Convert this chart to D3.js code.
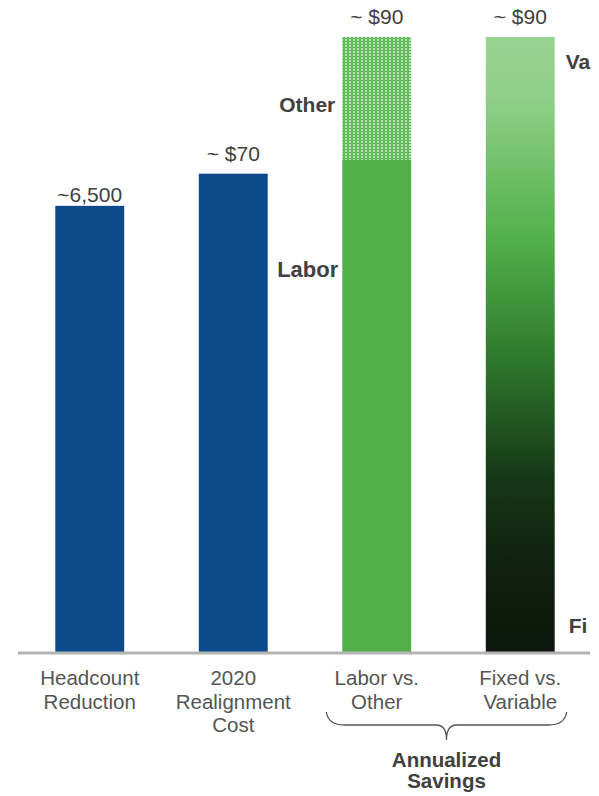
<!DOCTYPE html>
<html>
<head>
<meta charset="utf-8">
<script src="https://cdn.jsdelivr.net/npm/d3@7"></script>
<style>
  html, body { margin: 0; padding: 0; background: #ffffff; }
  svg { display: block; font-family: "Liberation Sans", Arial, sans-serif; }
</style>
</head>
<body>
<svg id="chart" width="599" height="796"></svg>
<script>
// ---- data ----
const categories = ["Headcount\nReduction", "2020\nRealignment\nCost", "Labor vs.\nOther", "Fixed vs.\nVariable"];
const valueLabels = ["~6,500", "~ $70", "~ $90", "~ $90"];
const headcount = 6500;          // bar 1 (people)
const realignmentCost = 70;      // bar 2 ($M)
const laborSavings = 72;         // bar 3, labor part ($M)
const otherSavings = 18;         // bar 3, other part ($M)
const fixedVsVariableTotal = 90; // bar 4 ($M)
const segmentLabels = ["Other", "Labor"];
const sideLabels = ["Va", "Fi"];  // visible (cropped) parts of "Variable" / "Fixed"
const groupLabel = ["Annualized", "Savings"];

// ---- layout ----
const svg = d3.select("#chart");
const baseY = 652, topY = 37;

const x = d3.scaleBand().domain(categories).range([18, 592])
  .paddingInner(0.52).paddingOuter(0.26);
const y = d3.scaleLinear().domain([0, 90]).range([baseY, topY]);
const yHead = d3.scaleLinear().domain([0, 8960]).range([baseY, topY]);

const defs = svg.append("defs");
const grad = defs.append("linearGradient").attr("id", "fvGrad")
  .attr("x1", 0).attr("y1", 0).attr("x2", 0).attr("y2", 1);
[["0%", "#98d391"], ["10%", "#8fcf88"], ["33%", "#52b04a"], ["52%", "#2f7a2d"],
 ["72%", "#163616"], ["88%", "#0f1f0e"], ["100%", "#0d170c"]]
  .forEach(([o, c]) => grad.append("stop").attr("offset", o).attr("stop-color", c));

const pat = defs.append("pattern").attr("id", "dots")
  .attr("patternUnits", "userSpaceOnUse").attr("width", 4).attr("height", 3);
pat.append("rect").attr("width", 4).attr("height", 3).attr("fill", "#62ba5c");
pat.append("rect").attr("x", 1).attr("y", 0).attr("width", 2).attr("height", 2)
  .attr("fill", "#b7e2b2");

const blue = "#0c4a8c";
const green = "#51af4a";

// Bar 1
svg.append("rect").attr("x", x(categories[0])).attr("width", x.bandwidth())
  .attr("y", yHead(headcount)).attr("height", baseY - yHead(headcount)).attr("fill", blue);
// Bar 2
svg.append("rect").attr("x", x(categories[1])).attr("width", x.bandwidth())
  .attr("y", y(realignmentCost)).attr("height", baseY - y(realignmentCost)).attr("fill", blue);
// Bar 3 stacked
svg.append("rect").attr("x", x(categories[2])).attr("width", x.bandwidth())
  .attr("y", y(laborSavings)).attr("height", baseY - y(laborSavings)).attr("fill", green);
svg.append("rect").attr("x", x(categories[2])).attr("width", x.bandwidth())
  .attr("y", y(laborSavings + otherSavings))
  .attr("height", y(laborSavings) - y(laborSavings + otherSavings)).attr("fill", "url(#dots)");
// Bar 4 gradient
svg.append("rect").attr("x", x(categories[3])).attr("width", x.bandwidth())
  .attr("y", y(fixedVsVariableTotal)).attr("height", baseY - y(fixedVsVariableTotal))
  .attr("fill", "url(#fvGrad)");

// value labels
const tops = [yHead(headcount), y(realignmentCost), y(laborSavings + otherSavings), y(fixedVsVariableTotal)];
const gaps = [4, 13, 13, 13];
svg.selectAll("text.val").data(valueLabels).join("text").attr("class", "val")
  .attr("x", (d, i) => x(categories[i]) + x.bandwidth() / 2)
  .attr("y", (d, i) => tops[i] - gaps[i])
  .attr("text-anchor", "middle").attr("font-size", 21).attr("fill", "#404040")
  .text(d => d);

// segment labels (bold)
const cx3 = x(categories[2]);
svg.append("text").attr("x", cx3 - 7).attr("y", 112).attr("text-anchor", "end")
  .attr("font-size", 21).attr("font-weight", "bold").attr("fill", "#404040").text(segmentLabels[0]);
svg.append("text").attr("x", cx3 - 4).attr("y", 277).attr("text-anchor", "end")
  .attr("font-size", 22).attr("font-weight", "bold").attr("fill", "#404040").text(segmentLabels[1]);
// side labels
const x4r = x(categories[3]) + x.bandwidth();
svg.append("text").attr("x", x4r + 11).attr("y", 69)
  .attr("font-size", 21).attr("font-weight", "bold").attr("fill", "#404040").text(sideLabels[0]);
svg.append("text").attr("x", x4r + 14).attr("y", 633)
  .attr("font-size", 21).attr("font-weight", "bold").attr("fill", "#404040").text(sideLabels[1]);

// x axis
const axis = svg.append("g").attr("transform", `translate(0,${baseY + 1})`)
  .call(d3.axisBottom(x).tickSize(0).tickPadding(0));
axis.select(".domain").attr("stroke", "#b3b3b3").attr("stroke-width", 3)
  .attr("d", `M18,0H590`);
axis.selectAll(".tick text").each(function(d) {
  const t = d3.select(this);
  t.text(null).attr("y", 0).attr("dy", null)
    .attr("font-size", 20.5).attr("fill", "#555555")
    .attr("font-family", "'Liberation Sans', Arial, sans-serif");
  d.split("\n").forEach((line, i) => {
    t.append("tspan").attr("x", 0).attr("y", 32 + i * 23.5).text(line);
  });
});

// brace under the savings categories
const bx0 = x(categories[2]) - 16, bx1 = x(categories[3]) + x.bandwidth() + 12;
const bmid = (bx0 + bx1) / 2;
const bTop = 712, bMid = 725, bTip = 740;
const brace = `M${bx0},${bTop} Q${bx0 + 2},${bMid} ${bx0 + 18},${bMid}
  L${bmid - 10},${bMid} Q${bmid},${bMid} ${bmid},${bTip}
  Q${bmid},${bMid} ${bmid + 10},${bMid}
  L${bx1 - 18},${bMid} Q${bx1 - 2},${bMid} ${bx1},${bTop}`;
svg.append("path").attr("d", brace).attr("fill", "none")
  .attr("stroke", "#555555").attr("stroke-width", 1.3);

svg.selectAll("text.grp").data(groupLabel).join("text").attr("class", "grp")
  .attr("x", bmid).attr("y", (d, i) => 767 + i * 21)
  .attr("text-anchor", "middle").attr("font-size", 20.5).attr("font-weight", "bold")
  .attr("fill", "#404040").text(d => d);
</script>
</body>
</html>
